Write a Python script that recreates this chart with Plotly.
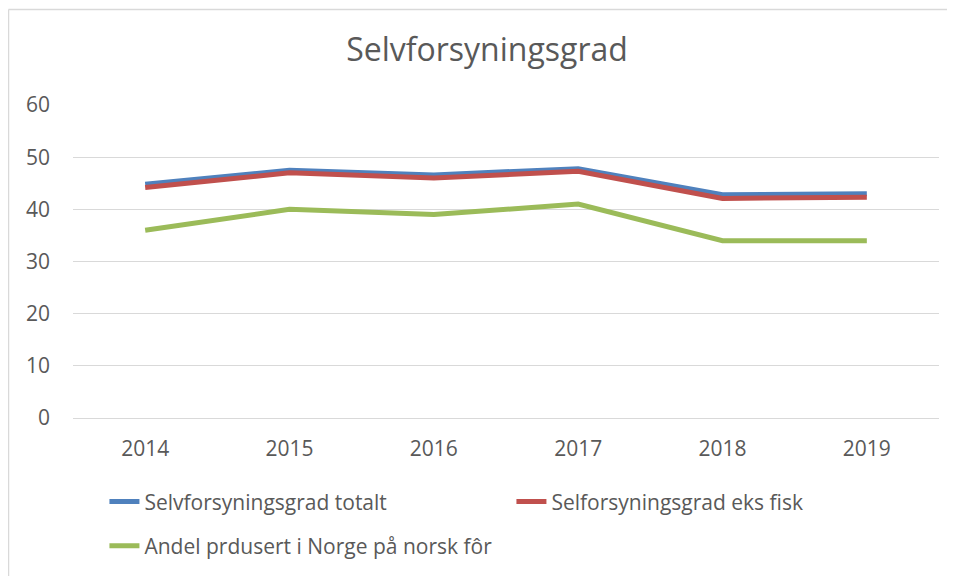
import plotly.graph_objects as go

years = ["2014", "2015", "2016", "2017", "2018", "2019"]
totalt = [44.8, 47.5, 46.6, 47.8, 42.8, 43.0]
eks_fisk = [44.2, 47.0, 46.0, 47.3, 42.1, 42.3]
norsk_for = [36.0, 40.0, 39.0, 41.0, 34.0, 34.0]

names = ["Selvforsyningsgrad totalt", "Selforsyningsgrad eks fisk", "Andel prdusert i Norge på norsk fôr"]
colors = ["#4f81bd", "#c0504d", "#9bbb59"]
legends = ["legend", "legend", "legend2"]

fig = go.Figure()
for name, vals, c, lg in zip(names, [totalt, eks_fisk, norsk_for], colors, legends):
    fig.add_trace(go.Scatter(x=years, y=vals, mode="lines", name=name, legend=lg,
                             line=dict(color=c, width=5, shape="linear")))

font_fam = "Open Sans, Liberation Sans, sans-serif"
leg_common = dict(orientation="h", xanchor="left", yanchor="middle",
                  entrywidth=362, font=dict(size=21, color="#595959"),
                  bgcolor="rgba(0,0,0,0)")
fig.update_layout(
    width=955, height=576,
    paper_bgcolor="white", plot_bgcolor="white",
    margin=dict(l=65, r=24, t=97, b=166),
    title=dict(text="Selvforsyningsgrad", x=0.5016, xanchor="center", y=0.927, yanchor="middle",
               font=dict(family=font_fam, size=32, color="#595959")),
    font=dict(family=font_fam, color="#595959"),
    showlegend=True,
    legend=dict(x=0.0363, y=-0.268, **leg_common),
    legend2=dict(x=0.0363, y=-0.409, **leg_common),
    xaxis=dict(type="category", range=[-0.5, 5.5], showgrid=False, showline=True,
               linecolor="#d9d9d9", linewidth=1, ticks="", tickfont=dict(size=21, color="#595959"),
               ticklabelstandoff=12),
    yaxis=dict(range=[0, 60], dtick=10, showgrid=True, gridcolor="#d9d9d9", gridwidth=1,
               zeroline=False, showline=False, ticks="", tickfont=dict(size=21, color="#595959"),
               ticklabelstandoff=22),
)
# chart-area border: only top and left edges are visible in the frame
fig.add_shape(type="line", xref="paper", yref="paper",
              x0=-0.0745, x1=1.3, y0=1.305, y1=1.305,
              line=dict(color="#d9d9d9", width=1.5), layer="below")
fig.add_shape(type="line", xref="paper", yref="paper",
              x0=-0.0745, x1=-0.0745, y0=-0.9, y1=1.305,
              line=dict(color="#d9d9d9", width=1.5), layer="below")

fig.write_html("out.html")
